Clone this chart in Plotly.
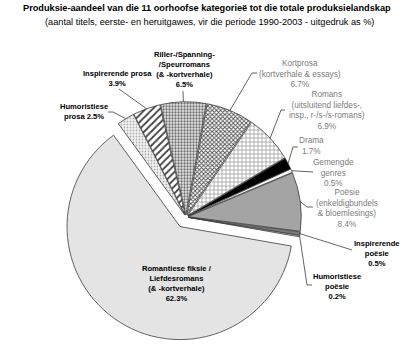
import math
import plotly.graph_objects as go

W, H = 415, 348

# ---- data ----
categories = [
    "Riller-/Spanning-/Speurromans (& -kortverhale)",
    "Kortprosa (kortverhale & essays)",
    "Romans (uitsluitend liefdes-, insp., r-/s-/s-romans)",
    "Drama",
    "Gemengde genres",
    "Poësie (enkeldigbundels & bloemlesings)",
    "Inspirerende poësie",
    "Humoristiese poësie",
    "Romantiese fiksie / Liefdesromans (& -kortverhale)",
    "Humoristiese prosa",
    "Inspirerende prosa",
]
values = [6.5, 6.7, 6.9, 1.7, 0.5, 8.4, 0.5, 0.2, 62.3, 2.5, 3.9]
label_lines = [
    ["Riller-/Spanning-", "/Speurromans", "(& -kortverhale)"],
    ["Kortprosa", "(kortverhale & essays)"],
    ["Romans", "(uitsluitend liefdes-,", "insp., r-/s-/s-romans)"],
    ["Drama"],
    ["Gemengde", "genres"],
    ["Poësie", "(enkeldigbundels", "& bloemlesings)"],
    ["Inspirerende", "poësie"],
    ["Humoristiese", "poësie"],
    ["Romantiese fiksie /", "Liefdesromans", "(& -kortverhale)"],
    ["Humoristiese", "prosa"],
    ["Inspirerende prosa"],
]
# whether the percentage shares the last text line
pct_inline = [False, False, False, False, False, False, False, False, False, True, False]
title = "Produksie-aandeel van die 11 oorhoofse kategorieë tot die totale produksielandskap"
subtitle = "(aantal titels, eerste- en heruitgawes, vir die periode 1990-2003 - uitgedruk as %)"

# ---- styling / layout ----
bold_label = [True, False, False, False, False, False, True, True, True, True, True]
pulls = [0.02, 0.02, 0.02, 0.02, 0.02, 0.02, 0.02, 0.02, 0.10, 0.02, 0.02]
colors = ["#e0e0e0", "#ffffff", "#ffffff", "#000000", "#ffffff", "#a4a4a4",
          "#7a7a7a", "#d0d0d0", "#e4e4e4", "#f3f3f3", "#ffffff"]
p_shape = [".", "x", "+", "", "", "", "", "", "", ".", "/"]
p_fg = ["#6e6e6e", "#505050", "#8c8c8c", "#000", "#fff", "#a4a4a4",
        "#7a7a7a", "#d0d0d0", "#e4e4e4", "#b0b0b0", "#404040"]
p_bg = ["#e6e6e6", "#ffffff", "#ffffff", "#000", "#fff", "#a4a4a4",
        "#7a7a7a", "#d0d0d0", "#e4e4e4", "#f4f4f4", "#ffffff"]
p_size = [3, 3, 4, 8, 8, 8, 8, 8, 8, 3, 5]
p_sol = [0.45, 0.5, 0.3, 0.3, 0.3, 0.3, 0.3, 0.3, 0.3, 0.3, 0.35]

ROT = -13
CX, CY, R = 186, 217, 113
half = R * (1 + max(pulls))
dom_x = [(CX - half) / W, (CX + half) / W]
dom_y = [1 - (CY + half) / H, 1 - (CY - half) / H]

# label centres (px) and leader line label-side points (px)
label_pos = [(184, 69.5), (300, 74), (327, 110.5), (311, 145.5), (333, 172.5),
             (347, 208), (377, 253), (337, 286), (177, 283), (84, 111.5), (117, 78.5)]
leader = [
    [(183, 91)],
    [(257, 73), (252, 73)],
    [(285, 110), (281, 110)],
    [(298, 147), (293, 147)],
    [(313, 172)],
    [(313, 207), (307, 207)],
    [(352, 250)],
    [(312, 285), (307, 285)],
    None,
    [(108, 112), (113, 112)],
    [(119, 89)],
]

fig = go.Figure(go.Pie(
    labels=categories, values=values, sort=False, direction="clockwise",
    rotation=ROT, pull=pulls, textinfo="none", hoverinfo="skip",
    domain=dict(x=dom_x, y=dom_y), showlegend=False,
    marker=dict(colors=colors, line=dict(color="#3c3c3c", width=0.8),
                pattern=dict(shape=p_shape, fgcolor=p_fg, bgcolor=p_bg,
                             size=p_size, solidity=p_sol, fillmode="replace")),
))

def px2paper(x, y):
    return x / W, 1 - y / H

annotations = []
shapes = []
total = sum(values)
cum = 0.0
for i, v in enumerate(values):
    a0 = ROT + cum / total * 360
    cum += v
    a1 = ROT + cum / total * 360
    mid = math.radians((a0 + a1) / 2)
    rr = R * (1 + pulls[i])
    ax, ay = CX + rr * math.sin(mid), CY - rr * math.cos(mid)

    lines = list(label_lines[i])
    if pct_inline[i]:
        lines[-1] = f"{lines[-1]} {v}%"
    else:
        lines.append(f"{v}%")
    lx, ly = px2paper(*label_pos[i])
    bold = bold_label[i]
    annotations.append(dict(
        x=lx, y=ly, xref="paper", yref="paper", xanchor="center", yanchor="middle",
        text="<br>".join(lines), showarrow=False, align="center",
        font=dict(family="Liberation Sans", size=7.6 if bold else 8.2,
                  color="#000000" if bold else "#7c7c7c",
                  weight="bold" if bold else "normal"),
    ))
    if leader[i]:
        pts = leader[i] + [(ax, ay)]
        path = "M " + " L ".join(
            f"{px2paper(x, y)[0]:.5f},{px2paper(x, y)[1]:.5f}" for x, y in pts)
        shapes.append(dict(type="path", path=path, xref="paper", yref="paper",
                           line=dict(color="#3c3c3c", width=0.8)))

tx, ty = px2paper(207, 8)
annotations.append(dict(x=tx, y=ty, xref="paper", yref="paper", xanchor="center",
                        yanchor="middle", text=title, showarrow=False,
                        font=dict(family="Liberation Sans", size=9.2, color="#000",
                                  weight="bold")))
sx, sy = px2paper(209, 22)
annotations.append(dict(x=sx, y=sy, xref="paper", yref="paper", xanchor="center",
                        yanchor="middle", text=subtitle, showarrow=False,
                        font=dict(family="Liberation Sans", size=9.2, color="#000")))

fig.update_layout(width=W, height=H, margin=dict(l=0, r=0, t=0, b=0),
                  paper_bgcolor="white", plot_bgcolor="white",
                  annotations=annotations, shapes=shapes)
fig.write_html("out.html")
